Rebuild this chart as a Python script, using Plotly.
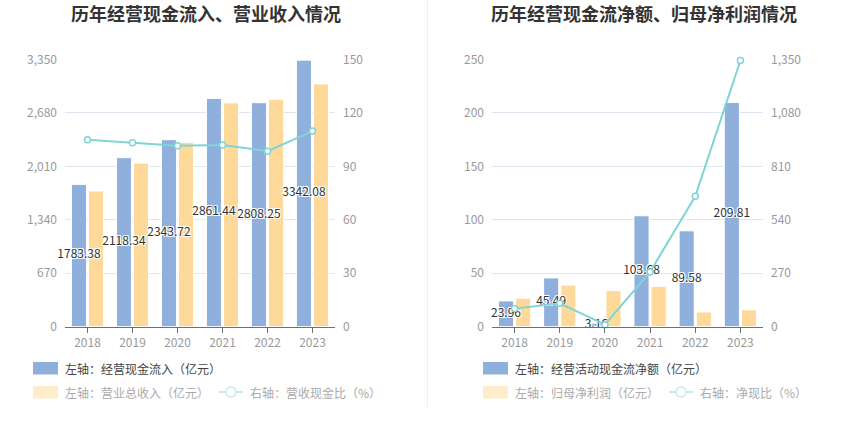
import plotly.graph_objects as go

# data
years = ["2018", "2019", "2020", "2021", "2022", "2023"]
inflow = [1783.38, 2118.34, 2343.72, 2861.44, 2808.25, 3342.08]      # 经营现金流入 (亿元)
revenue = [1700, 2051, 2310, 2806, 2852, 3044]                        # 营业总收入 (亿元)
cash_ratio = [104.9, 103.3, 101.5, 102.0, 98.5, 109.8]                # 营收现金比 (%)
net_cf = [23.96, 45.49, 3.16, 103.68, 89.58, 209.81]                  # 经营活动现金流净额 (亿元)
net_profit = [26.5, 38.8, 33.7, 37.6, 13.6, 15.6]                     # 归母净利润 (亿元)
net_ratio = [90.4, 117.2, 9.4, 275.7, 658.7, 1345.0]                  # 净现比 (%)

W, H = 850, 437
FONT = "Noto Sans CJK SC, Microsoft YaHei, sans-serif"
BLUE = "#8fafdc"
YELLOW = "#ffd999"
TEAL = "#7fd4d6"
GRID = "#e0e6f1"
TICK = "#999999"

BARGAP = 0.24
BARGROUPGAP = 0.12
idx = list(range(len(years)))
# centre of the first bar in each group, in category units
first_off = -(1 - BARGAP) / 4

OUTLINE = "1px 1px 0 #fff, -1px -1px 0 #fff, 1px -1px 0 #fff, -1px 1px 0 #fff"


def px_x(v):
    return v / W


def px_y(v):
    return 1 - v / H


fig = go.Figure()

panels = [
    dict(x="x", y="y", y2="y2", bars=(inflow, revenue), line=cash_ratio),
    dict(x="x2", y="y3", y2="y4", bars=(net_cf, net_profit), line=net_ratio),
]

for p in panels:
    main, second = p["bars"]
    fig.add_trace(go.Bar(
        x=idx, y=main, xaxis=p["x"], yaxis=p["y"],
        marker=dict(color=BLUE, line=dict(color="white", width=1)),
        showlegend=False, hoverinfo="skip",
    ))
    fig.add_trace(go.Bar(
        x=idx, y=second, xaxis=p["x"], yaxis=p["y"],
        marker=dict(color=YELLOW, line=dict(color="white", width=1)),
        showlegend=False, hoverinfo="skip",
    ))
    # value labels, centred on the first bar
    fig.add_trace(go.Scatter(
        x=[i + first_off for i in idx], y=[v / 2 for v in main],
        xaxis=p["x"], yaxis=p["y"], mode="text",
        text=[f"{v:.2f}" for v in main], textposition="middle center",
        textfont=dict(family=FONT, size=12, color="#333333", shadow=OUTLINE),
        cliponaxis=False, showlegend=False, hoverinfo="skip",
    ))
    fig.add_trace(go.Scatter(
        x=idx, y=p["line"], xaxis=p["x"], yaxis=p["y2"], mode="lines+markers",
        line=dict(color=TEAL, width=2),
        marker=dict(size=6, color="white", line=dict(color=TEAL, width=1.5)),
        cliponaxis=False, showlegend=False, hoverinfo="skip",
    ))

ydom = [px_y(326.5), px_y(59.5)]
xcommon = dict(
    tickvals=idx, ticktext=years, range=[-0.5, 5.5],
    showline=True, linecolor="#6e7079", linewidth=1,
    ticks="outside", ticklen=5, tickcolor="#6e7079",
    showgrid=False, zeroline=False, automargin=False,
    tickfont=dict(family=FONT, size=12, color=TICK), fixedrange=True,
)
ycommon = dict(
    showline=False, zeroline=False, ticks="", tickformat=",",
    tickfont=dict(family=FONT, size=12, color=TICK), fixedrange=True,
    ticklabelstandoff=7, automargin=False,
)

fig.update_layout(
    width=W, height=H,
    margin=dict(l=0, r=0, t=0, b=0, pad=0, autoexpand=False),
    paper_bgcolor="white", plot_bgcolor="white",
    barmode="group", bargap=BARGAP, bargroupgap=BARGROUPGAP,
    font=dict(family=FONT),
    showlegend=False,
    xaxis=dict(domain=[px_x(65), px_x(335)], anchor="y", **xcommon),
    xaxis2=dict(domain=[px_x(492), px_x(763)], anchor="y3", **xcommon),
    yaxis=dict(domain=ydom, anchor="x", range=[0, 3350], dtick=670,
               showgrid=True, gridcolor=GRID, **ycommon),
    yaxis2=dict(domain=ydom, anchor="x", overlaying="y", side="right",
                range=[0, 150], dtick=30, showgrid=False, **ycommon),
    yaxis3=dict(domain=ydom, anchor="x2", range=[0, 250], dtick=50,
                showgrid=True, gridcolor=GRID, **ycommon),
    yaxis4=dict(domain=ydom, anchor="x2", overlaying="y3", side="right",
                range=[0, 1350], dtick=270, showgrid=False, **ycommon),
)

# titles
titles = [("历年经营现金流入、营业收入情况", 206), ("历年经营现金流净额、归母净利润情况", 644)]
for text, cx in titles:
    fig.add_annotation(
        text=text, x=px_x(cx), y=px_y(13), xref="paper", yref="paper",
        xanchor="center", yanchor="middle", showarrow=False,
        font=dict(family=FONT, size=18, color="#333333", weight="bold"),
    )

# divider between the two charts
fig.add_shape(type="line", xref="paper", yref="paper",
              x0=px_x(427.5), x1=px_x(427.5), y0=px_y(0), y1=px_y(407),
              line=dict(color="#eeeeee", width=1))

# hand-drawn legends
legends = [
    (0, "左轴：经营现金流入（亿元）", "左轴：营业总收入（亿元）", "右轴：营收现金比（%）"),
    (450, "左轴：经营活动现金流净额（亿元）", "左轴：归母净利润（亿元）", "右轴：净现比（%）"),
]
for dx, first, second, third in legends:
    fig.add_shape(type="rect", xref="paper", yref="paper",
                  x0=px_x(33 + dx), x1=px_x(58 + dx), y0=px_y(362), y1=px_y(374.5),
                  fillcolor=BLUE, line=dict(width=0))
    fig.add_annotation(text=first, x=px_x(63 + dx), y=px_y(368), xref="paper", yref="paper",
                       xanchor="left", yanchor="middle", showarrow=False,
                       font=dict(family=FONT, size=12, color="#444444"))
    fig.add_shape(type="rect", xref="paper", yref="paper",
                  x0=px_x(33 + dx), x1=px_x(58 + dx), y0=px_y(386), y1=px_y(398.5),
                  fillcolor="#ffeccc", line=dict(width=0))
    fig.add_annotation(text=second, x=px_x(63 + dx), y=px_y(392), xref="paper", yref="paper",
                       xanchor="left", yanchor="middle", showarrow=False,
                       font=dict(family=FONT, size=12, color="#aaaaaa"))
    fig.add_shape(type="line", xref="paper", yref="paper",
                  x0=px_x(219 + dx), x1=px_x(243 + dx), y0=px_y(392), y1=px_y(392),
                  line=dict(color="#c4ecec", width=2))
    fig.add_shape(type="circle", xref="paper", yref="paper",
                  x0=px_x(226 + dx), x1=px_x(236 + dx), y0=px_y(387), y1=px_y(397),
                  fillcolor="white", line=dict(color="#c4ecec", width=1.5))
    fig.add_annotation(text=third, x=px_x(248 + dx), y=px_y(392), xref="paper", yref="paper",
                       xanchor="left", yanchor="middle", showarrow=False,
                       font=dict(family=FONT, size=12, color="#aaaaaa"))

# the page's default body margin would push the 850x437 figure off the window
fig.write_html("out.html", config={"displayModeBar": False},
               post_script="document.body.style.margin = '0';")
